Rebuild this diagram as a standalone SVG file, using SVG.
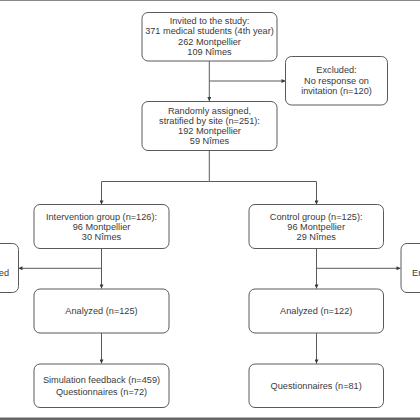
<svg xmlns="http://www.w3.org/2000/svg" width="420" height="420" viewBox="0 0 420 420">
<style>
.box{fill:#fff;stroke:#5a5a5a;stroke-width:1}
.ln{fill:none;stroke:#5a5a5a;stroke-width:1}
text{font-family:"Liberation Sans",Arial,sans-serif;font-size:9.2px;fill:#3a3a3a;text-anchor:middle;dominant-baseline:central}
</style>
<defs>
<marker id="ah" viewBox="0 0 10 10" refX="10" refY="5" markerWidth="5" markerHeight="4" markerUnits="userSpaceOnUse" orient="auto">
<path d="M0,0 L10,5 L0,10 z" fill="#3a3a3a"/>
</marker>
</defs>
<rect x="0" y="0" width="420" height="420" fill="#fff"/>
<line x1="0" y1="0.5" x2="420" y2="0.5" stroke="#8a8a8a" stroke-width="1.2"/>
<line x1="0" y1="418.8" x2="420" y2="418.8" stroke="#666" stroke-width="2.5"/>
<g id="connectors">
<path class="ln" d="M209.3,61 V101" marker-end="url(#ah)"/>
<path class="ln" d="M209.3,81 H285.5" marker-end="url(#ah)"/>
<path class="ln" d="M209.3,151 V181.5 H101.5 V204.5" marker-end="url(#ah)"/>
<path class="ln" d="M209.3,181.5 H316.5 V204.5" marker-end="url(#ah)"/>
<path class="ln" d="M101.5,248.5 V288.5" marker-end="url(#ah)"/>
<path class="ln" d="M101.5,268.3 H18.5" marker-end="url(#ah)"/>
<path class="ln" d="M316.5,248.5 V288.5" marker-end="url(#ah)"/>
<path class="ln" d="M316.5,268.3 H400.5" marker-end="url(#ah)"/>
<path class="ln" d="M101.5,333 V363.5" marker-end="url(#ah)"/>
<path class="ln" d="M316.5,333 V363.5" marker-end="url(#ah)"/>
</g>
<g id="invited">
<rect class="box" x="142" y="12.5" width="135" height="48.5" rx="6"/>
<text x="209.5" y="20.5">Invited to the study:</text>
<text x="209.5" y="31">371 medical students (4th year)</text>
<text x="209.5" y="41.5">262 Montpellier</text>
<text x="209.5" y="52">109 Nîmes</text>
</g>
<g id="excluded">
<rect class="box" x="285.5" y="56.5" width="102" height="48.5" rx="6"/>
<text x="336.5" y="70">Excluded:</text>
<text x="336.5" y="80.5">No response on</text>
<text x="336.5" y="91">invitation (n=120)</text>
</g>
<g id="randomized">
<rect class="box" x="142" y="101.5" width="135" height="49" rx="6"/>
<text x="209.5" y="110.5">Randomly assigned,</text>
<text x="209.5" y="120.8">stratified by site (n=251):</text>
<text x="209.5" y="131.1">192 Montpellier</text>
<text x="209.5" y="141.4">59 Nîmes</text>
</g>
<g id="intervention">
<rect class="box" x="34" y="204.5" width="135" height="44" rx="6"/>
<text x="101.5" y="216.5">Intervention group (n=126):</text>
<text x="101.5" y="226.7">96 Montpellier</text>
<text x="101.5" y="236.9">30 Nîmes</text>
</g>
<g id="control">
<rect class="box" x="249" y="204.5" width="134.5" height="44" rx="6"/>
<text x="316.2" y="216.5">Control group (n=125):</text>
<text x="316.2" y="226.7">96 Montpellier</text>
<text x="316.2" y="236.9">29 Nîmes</text>
</g>
<g id="left-excluded">
<rect class="box" x="-20" y="243.5" width="38.5" height="49" rx="6"/>
<text x="9" y="273" text-anchor="end" style="text-anchor:end">ed</text>
</g>
<g id="right-excluded">
<rect class="box" x="401" y="243.5" width="40" height="49" rx="6"/>
<text x="412" y="273" style="text-anchor:start">Er</text>
</g>
<g id="analyzed-int">
<rect class="box" x="34" y="289" width="135" height="44" rx="6"/>
<text x="101.5" y="311">Analyzed (n=125)</text>
</g>
<g id="analyzed-ctrl">
<rect class="box" x="249" y="289" width="134.5" height="44" rx="6"/>
<text x="316.2" y="311">Analyzed (n=122)</text>
</g>
<g id="outcome-int">
<rect class="box" x="34" y="364" width="135" height="43.5" rx="6"/>
<text x="101.5" y="380">Simulation feedback (n=459)</text>
<text x="101.5" y="391.5">Questionnaires (n=72)</text>
</g>
<g id="outcome-ctrl">
<rect class="box" x="249" y="364" width="134.5" height="43.5" rx="6"/>
<text x="316.2" y="385.7">Questionnaires (n=81)</text>
</g>
</svg>
